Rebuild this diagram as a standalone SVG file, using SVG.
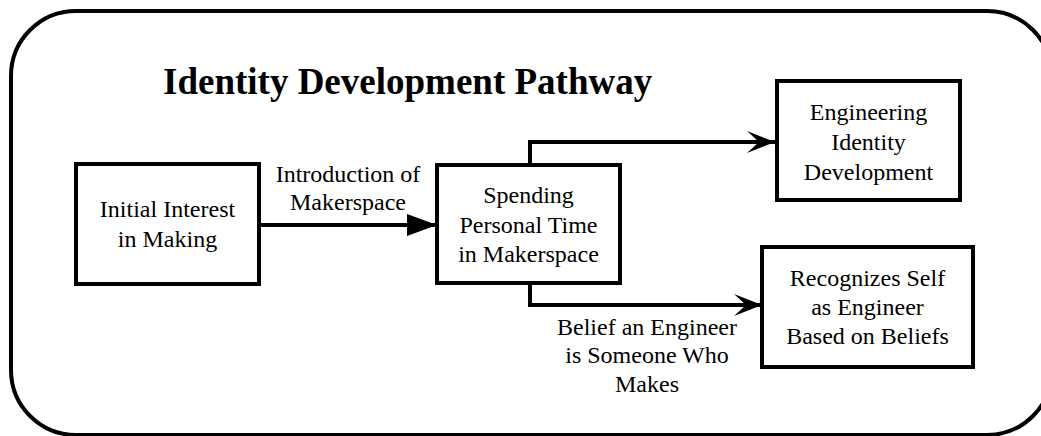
<svg xmlns="http://www.w3.org/2000/svg" width="1041" height="436" viewBox="0 0 1041 436">
  <style>
    .box { fill: #fff; stroke: #000; stroke-width: 4; }
    .frame { fill: #fff; stroke: #000; stroke-width: 4; }
    .lbl { font-family: "Liberation Serif", "Times New Roman", serif; font-size: 24px; fill: #000; text-anchor: middle; }
    .title { font-family: "Liberation Serif", "Times New Roman", serif; font-size: 37px; font-weight: bold; fill: #000; }
    .conn { fill: none; stroke: #000; stroke-width: 4; }
  </style>
  <defs>
    <marker id="tri" viewBox="0 0 30 22" refX="30" refY="11" markerWidth="30" markerHeight="22" markerUnits="userSpaceOnUse" orient="auto">
      <path d="M0,0 L30,11 L0,22 z" fill="#000"/>
    </marker>
    <marker id="stealth" viewBox="0 0 28 22" refX="28" refY="11" markerWidth="28" markerHeight="22" markerUnits="userSpaceOnUse" orient="auto">
      <path d="M0,0 L28,11 L0,22 L12,11 z" fill="#000"/>
    </marker>
  </defs>
  <rect class="frame" x="11" y="11" width="1041" height="424" rx="65" ry="65"/>
  <text class="title" x="163" y="94">Identity Development Pathway</text>

  <g id="connectors">
    <path class="conn" d="M259,225 H437" marker-end="url(#tri)"/>
    <path class="conn" d="M530,165 V142 H775" marker-end="url(#stealth)"/>
    <path class="conn" d="M530,283 V305 H762" marker-end="url(#stealth)"/>
    <text class="lbl" x="348" y="182">Introduction of</text>
    <text class="lbl" x="348" y="210">Makerspace</text>
    <text class="lbl" x="647" y="335">Belief an Engineer</text>
    <text class="lbl" x="647" y="363">is Someone Who</text>
    <text class="lbl" x="647" y="392">Makes</text>
  </g>

  <g id="node-initial">
    <rect class="box" x="76" y="164" width="183" height="120"/>
    <text class="lbl" x="167.5" y="217">Initial Interest</text>
    <text class="lbl" x="167.5" y="247">in Making</text>
  </g>
  <g id="node-spending">
    <rect class="box" x="437" y="165" width="183" height="118"/>
    <text class="lbl" x="528.5" y="203">Spending</text>
    <text class="lbl" x="528.5" y="233">Personal Time</text>
    <text class="lbl" x="528.5" y="262">in Makerspace</text>
  </g>
  <g id="node-engineering">
    <rect class="box" x="777" y="81" width="183" height="119"/>
    <text class="lbl" x="868.5" y="120">Engineering</text>
    <text class="lbl" x="868.5" y="150">Identity</text>
    <text class="lbl" x="868.5" y="180">Development</text>
  </g>
  <g id="node-recognizes">
    <rect class="box" x="762" y="247" width="211" height="120"/>
    <text class="lbl" x="867.5" y="286">Recognizes Self</text>
    <text class="lbl" x="867.5" y="315">as Engineer</text>
    <text class="lbl" x="867.5" y="344">Based on Beliefs</text>
  </g>
</svg>
